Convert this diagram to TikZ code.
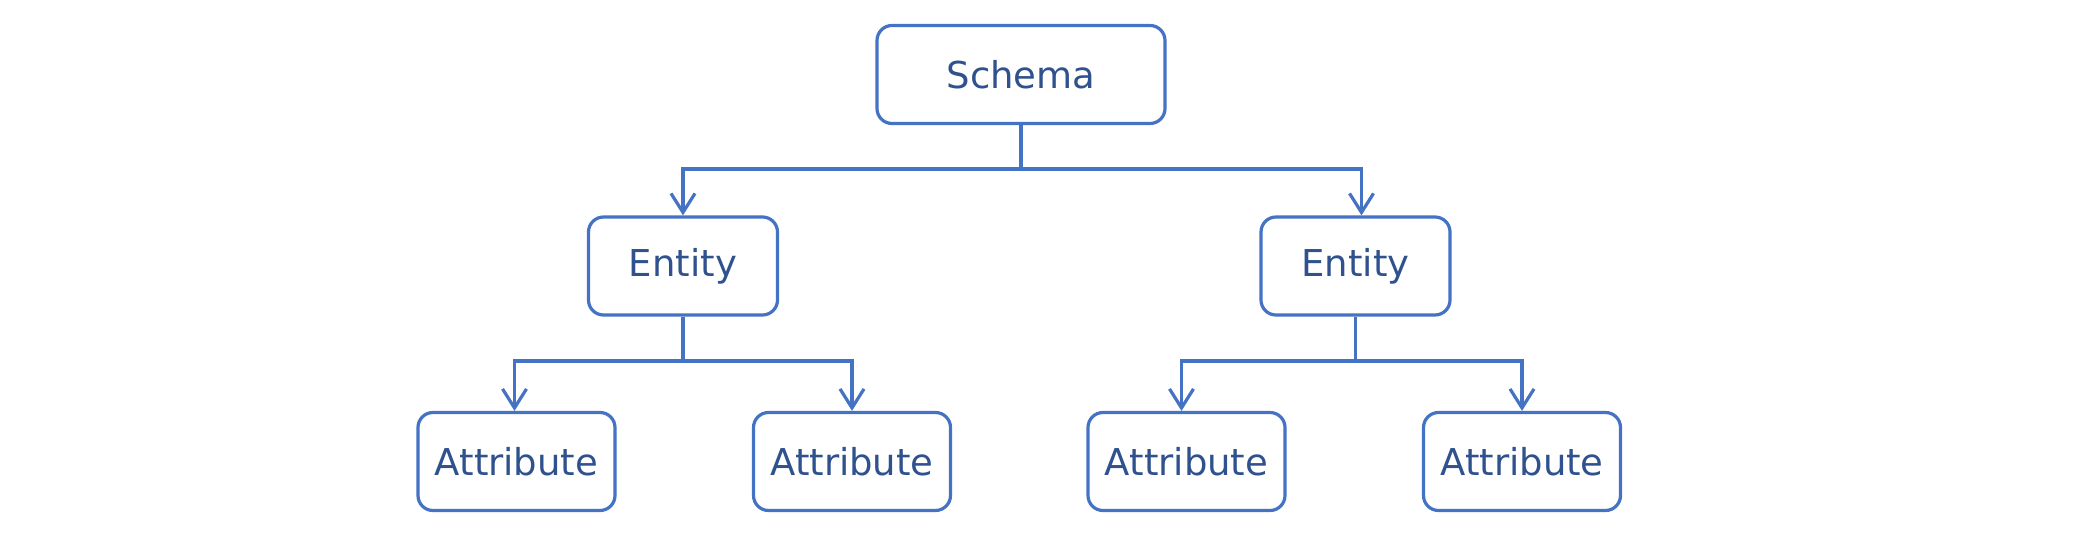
\documentclass[tikz,border=0pt]{standalone}
\usepackage{fontspec}
\setmainfont{DejaVu Sans}
\usetikzlibrary{arrows.meta}
\definecolor{lineblue}{HTML}{4472C4}
\definecolor{textblue}{HTML}{2F528F}
\begin{document}
\begin{tikzpicture}[x=1pt,y=-1pt,
  box/.style={draw=lineblue,line width=3.2pt,rounded corners=15pt,fill=white,
    text=textblue,font=\fontsize{37}{44}\selectfont,inner sep=0pt,
    minimum height=98pt},
  conn/.style={draw=lineblue,line width=3.2pt},
  arr/.style={conn,-{Straight Barb[length=19pt,width=24pt,line width=3.2pt]}}]
\useasboundingbox (0,0) rectangle (2088,543);
\node[box,minimum width=288pt] (schema) at (1021,74.5) {Schema};
\node[box,minimum width=189pt] (el) at (683,266) {Entity};
\node[box,minimum width=189pt] (er) at (1355.5,266) {Entity};
\node[box,minimum width=197pt] (a1) at (516.5,461.5) {Attribute};
\node[box,minimum width=197pt] (a2) at (852,461.5) {Attribute};
\node[box,minimum width=197pt] (a3) at (1186.5,461.5) {Attribute};
\node[box,minimum width=197pt] (a4) at (1522,461.5) {Attribute};
\coordinate (b0) at (1021,169);
\coordinate (b1) at (683,361);
\coordinate (b2) at (1355.5,361);
\draw[conn] (schema.south) -- (b0);
\draw[arr] (b0) -| (el.north);
\draw[arr] (b0) -| ([xshift=6pt]er.north);
\draw[conn] (el.south) -- (b1);
\draw[arr] (b1) -| ([xshift=-2pt]a1.north);
\draw[arr] (b1) -| (a2.north);
\draw[conn] (er.south) -- (b2);
\draw[arr] (b2) -| ([xshift=-5pt]a3.north);
\draw[arr] (b2) -| (a4.north);
\end{tikzpicture}
\end{document}
